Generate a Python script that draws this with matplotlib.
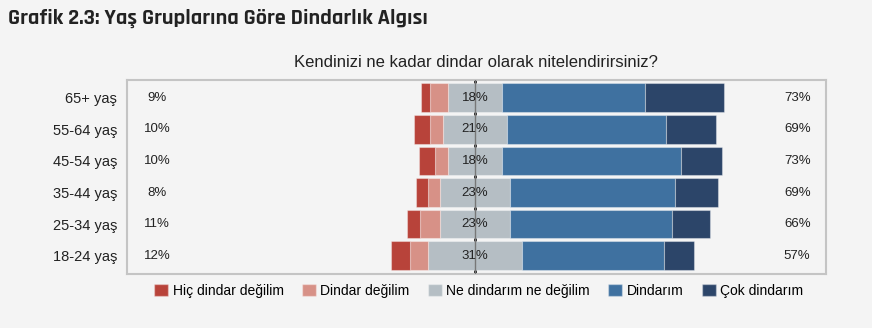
import numpy as np
import matplotlib.pyplot as plt
from matplotlib.patches import Patch

plt.rcParams['font.family'] = ['Liberation Sans', 'DejaVu Sans']

# Yaş grupları (alttan üste)
gruplar = ["18-24 yaş", "25-34 yaş", "35-44 yaş", "45-54 yaş", "55-64 yaş", "65+ yaş"]

# Yüzdeler
hic_dindar_degil = [6.4, 4.4, 4.1, 5.2, 5.3, 3.0]
dindar_degil = [5.9, 6.3, 3.9, 4.4, 4.3, 5.9]
ne_ne = [30.8, 23.4, 23.2, 17.6, 21.4, 17.8]
dindarim = [47.0, 53.4, 54.4, 59.2, 52.5, 47.4]
cok_dindar = [9.9, 12.5, 14.2, 13.7, 16.5, 26.0]

kategoriler = ["Hiç dindar değilim", "Dindar değilim", "Ne dindarım ne değilim",
               "Dindarım", "Çok dindarım"]
renkler = ["#b8433a", "#d79187", "#b5bec4", "#3f71a0", "#2c4569"]

bg = "#f4f4f4"

fig = plt.figure(figsize=(8.72, 3.28), dpi=100, facecolor=bg)
ax = fig.add_axes([0.1456, 0.1646, 0.8016, 0.5914], facecolor=bg)

y = np.arange(len(gruplar))
h = 0.91
kenar = (1, 1, 1, 0.35)

ne_ne = np.array(ne_ne)
sol_yari = -ne_ne / 2

# sol taraf: kararsızların yarısından sola doğru
dd = np.array(dindar_degil)
hd = np.array(hic_dindar_degil)
ax.barh(y, ne_ne, left=sol_yari, height=h, color=renkler[2], edgecolor=kenar, lw=0.8, zorder=2)
ax.barh(y, dd, left=sol_yari - dd, height=h, color=renkler[1], edgecolor=kenar, lw=0.8, zorder=2)
ax.barh(y, hd, left=sol_yari - dd - hd, height=h, color=renkler[0], edgecolor=kenar, lw=0.8, zorder=2)

# sağ taraf
di = np.array(dindarim)
cd = np.array(cok_dindar)
ax.barh(y, di, left=ne_ne / 2, height=h, color=renkler[3], edgecolor=kenar, lw=0.8, zorder=2)
ax.barh(y, cd, left=ne_ne / 2 + di, height=h, color=renkler[4], edgecolor=kenar, lw=0.8, zorder=2)

# orta çizgi
ax.axvline(0, color="#111111", lw=2, zorder=1)
ax.axvline(0, color="#777777", lw=1, zorder=3)

for i in range(len(gruplar)):
    ax.text(0, y[i], f"{ne_ne[i]:.0f}%", ha="center", va="center", fontsize=9.5, color="#222222", zorder=4)
    ax.text(-105, y[i], f"{hd[i] + dd[i]:.0f}%", ha="center", va="center", fontsize=9.5, color="#222222")
    ax.text(106.5, y[i], f"{di[i] + cd[i]:.0f}%", ha="center", va="center", fontsize=9.5, color="#222222")

ax.set_xlim(-115, 116)
ax.set_ylim(-0.58, len(gruplar) - 1 + 0.56)
ax.set_xticks([])
ax.set_yticks(y)
ax.set_yticklabels(gruplar, fontsize=10.5, color="#222222")
ax.tick_params(axis="y", length=0, pad=7)
for s in ax.spines.values():
    s.set_color("#c4c4c4")
    s.set_linewidth(1.5)

# lejant
handles = [Patch(facecolor=c, edgecolor=kenar) for c in renkler]
fig.legend(handles, kategoriler, loc="center", bbox_to_anchor=(0.549, 0.113), ncol=5,
           frameon=False, fontsize=10, handlelength=1.0, handleheight=1.0,
           handletextpad=0.35, columnspacing=1.3)

fig.text(0.546, 0.81, "Kendinizi ne kadar dindar olarak nitelendirirsiniz?",
         ha="center", va="center", fontsize=12, color="#222222")
fig.text(0.009, 0.945, "Grafik 2.3: Yaş Gruplarına Göre Dindarlık Algısı",
         ha="left", va="center", fontsize=16, fontweight="bold", color="#222222",
         family=["Rajdhani", "DejaVu Sans"])

fig.savefig("out.png", dpi=100, facecolor=bg)
